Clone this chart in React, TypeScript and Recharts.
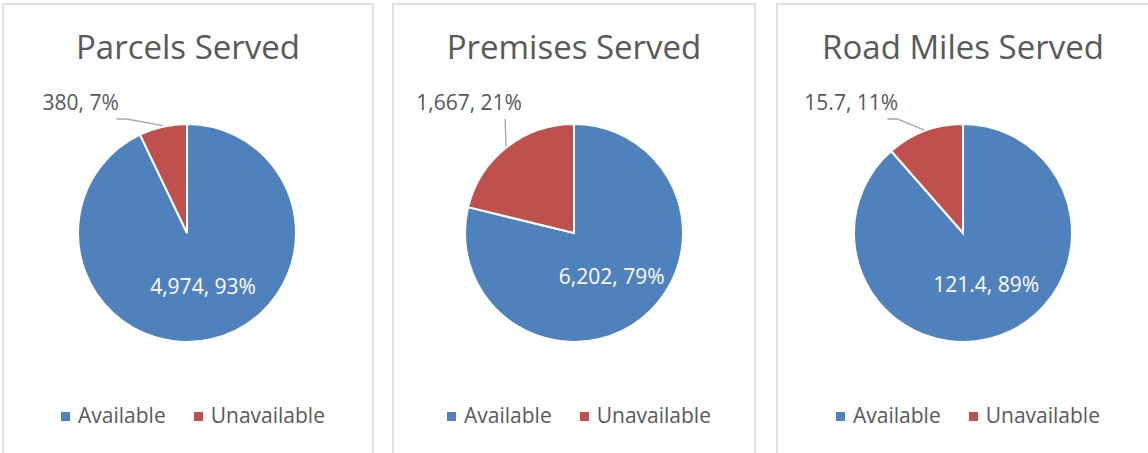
import { PieChart, Pie, Cell, Legend } from 'recharts';

const categories = ['Available', 'Unavailable'];
const titles = ['Parcels Served', 'Premises Served', 'Road Miles Served'];
const parcelsValues = [4974, 380];
const premisesValues = [6202, 1667];
const roadMilesValues = [121.4, 15.7];

const COLORS = ['#4F81BD', '#C0504D'];
const TEXT = '#595959';
const FONT = '"Open Sans", sans-serif';
const RADIUS = 109;
const RAD = Math.PI / 180;

// panel boxes (page px) and where Excel parked the outside label
const panels = [
  { left: 2, width: 372, cx: 183, nudge: -46 },
  { left: 392, width: 364, cx: 180, nudge: -1 },
  { left: 776, width: 374, cx: 185, nudge: -37 },
];

const fmt = (v: number) => v.toLocaleString('en-US', { maximumFractionDigits: 1 });

function makeLabel(nudge: number) {
  return (props: any) => {
    const { cx, cy, midAngle, outerRadius, percent, value, index } = props;
    const text = `${fmt(value)}, ${Math.round(percent * 100)}%`;
    if (index === 0) {
      const r = outerRadius * 0.5;
      const x = cx + r * Math.cos(-midAngle * RAD);
      const y = cy + r * Math.sin(-midAngle * RAD);
      return (
        <text x={x + 4} y={y} fill="#fff" fontSize={21} fontFamily={FONT} textAnchor="middle" dominantBaseline="central">
          {text}
        </text>
      );
    }
    const ex = cx + (outerRadius + 1) * Math.cos(-midAngle * RAD);
    const ey = cy + (outerRadius + 1) * Math.sin(-midAngle * RAD);
    const lx = ex + nudge;
    const ly = cy - outerRadius - 5;
    const pts = nudge < -10 ? `${lx},${ly} ${lx + 10},${ly} ${ex},${ey}` : `${lx},${ly} ${ex},${ey}`;
    return (
      <g>
        <polyline points={pts} fill="none" stroke="#a6a6a6" strokeWidth={1.3} />
        <text x={lx - 36} y={cy - outerRadius - 14} fill={TEXT} fontSize={21} fontFamily={FONT} textAnchor="middle">
          {text}
        </text>
      </g>
    );
  };
}

function LegendContent(props: any) {
  const items = props.payload && props.payload.length
    ? props.payload.map((p: any) => ({ name: p.value, color: p.color }))
    : categories.map((c, i) => ({ name: c, color: COLORS[i] }));
  return (
    <div
      style={{
        display: 'flex', justifyContent: 'center', gap: 28, paddingLeft: 10,
        fontFamily: FONT, fontSize: 21, lineHeight: '21px', color: TEXT,
      }}
    >
      {items.map((it: any) => (
        <div key={it.name} style={{ display: 'flex', alignItems: 'center', gap: 8 }}>
          <span style={{ width: 9, height: 9, background: it.color, display: 'inline-block', marginTop: 1 }} />
          <span>{it.name}</span>
        </div>
      ))}
    </div>
  );
}

function PiePanel({ title, values, panel }: { title: string; values: number[]; panel: typeof panels[number] }) {
  const data = categories.map((name, i) => ({ name, value: values[i] }));
  const inner = panel.width - 4;
  return (
    <div
      style={{
        position: 'absolute', left: panel.left, top: 3, width: panel.width, height: 470,
        border: '2px solid #e0e0e0', boxSizing: 'border-box', background: '#fff',
      }}
    >
      <div
        style={{
          position: 'absolute', left: 0, top: 25, width: inner, textAlign: 'center',
          fontFamily: FONT, fontSize: 33, lineHeight: '33px', color: TEXT,
        }}
      >
        {title}
      </div>
      <PieChart width={inner} height={460} margin={{ top: 0, right: 0, bottom: 0, left: 0 }}>
        <Pie
          data={data}
          dataKey="value"
          nameKey="name"
          cx={panel.cx}
          cy={228}
          outerRadius={RADIUS}
          startAngle={90}
          endAngle={-270}
          stroke="#fff"
          strokeWidth={2}
          label={makeLabel(panel.nudge)}
          labelLine={false}
          isAnimationActive={false}
        >
          {data.map((d, i) => (
            <Cell key={d.name} fill={COLORS[i]} />
          ))}
        </Pie>
        <Legend content={<LegendContent />} wrapperStyle={{ top: 400, left: 0, width: inner, height: 24 }} />
      </PieChart>
    </div>
  );
}

export default function App() {
  return (
    <div style={{ position: 'fixed', left: 0, top: 0, width: 1148, height: 453, overflow: 'hidden', background: '#fff' }}>
      <PiePanel title={titles[0]} values={parcelsValues} panel={panels[0]} />
      <PiePanel title={titles[1]} values={premisesValues} panel={panels[1]} />
      <PiePanel title={titles[2]} values={roadMilesValues} panel={panels[2]} />
    </div>
  );
}
